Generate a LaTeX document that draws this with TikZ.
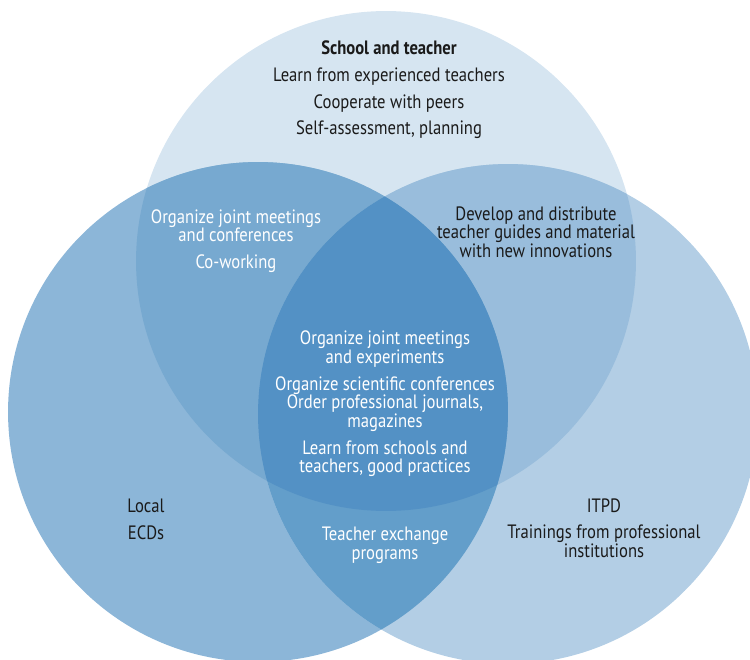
\documentclass[tikz,border=0pt]{standalone}
\usepackage{fontspec}
\setmainfont[FakeStretch=0.86]{PT Sans}
\usepackage{tikz}

\definecolor{cTop}{HTML}{D6E5F1}
\definecolor{cLeft}{HTML}{8CB6D8}
\definecolor{cRight}{HTML}{B3CEE5}
\definecolor{cTL}{HTML}{77A9D0}
\definecolor{cTR}{HTML}{99BDDC}
\definecolor{cLR}{HTML}{639ECA}
\definecolor{cAll}{HTML}{5391C5}
\definecolor{ink}{HTML}{1A1A1A}

\tikzset{
  txt/.style={align=center, font=\fontsize{11}{10.6}\selectfont, text=ink, inner sep=0pt},
  wtxt/.style={txt, text=white}
}
\newcommand{\gap}{\\[4.6pt]}

\begin{document}
\begin{tikzpicture}[x=0.02cm,y=-0.02cm]
\useasboundingbox (0,0) rectangle (750,659);
\fill[cTop] (386,261) circle (5cm);
\fill[cLeft] (258,412) circle (5cm);
\fill[cRight] (508,414) circle (5cm);
\begin{scope}
\clip (386,261) circle (5cm);
\fill[cTL] (258,412) circle (5cm);
\fill[cTR] (508,414) circle (5cm);
\end{scope}
\begin{scope}
\clip (258,412) circle (5cm);
\fill[cLR] (508,414) circle (5cm);
\clip (386,261) circle (5cm);
\fill[cAll] (508,414) circle (5cm);
\end{scope}
% labels
\node[txt] (sch) at (389,90) {\textbf{School and teacher}\gap Learn from experienced teachers\gap Cooperate with peers\gap Self-assessment, planning};
\node[wtxt] (tl) at (236,241) {Organize joint meetings\\ and conferences\gap Co-working};
\node[txt] (tr) at (536,232) {Develop and distribute\\ teacher guides and material\\ with new innovations};
\node[wtxt] (mid) at (385,404) {Organize joint meetings\\ and experiments\gap Organize scientific conferences\\ Order professional journals,\\ magazines\gap Learn from schools and\\ teachers, good practices};
\node[txt] (loc) at (146,519) {Local\gap ECDs};
\node[txt] (itpd) at (604,528) {ITPD\gap Trainings from professional\\ institutions};
\node[wtxt] (exch) at (385,545) {Teacher exchange\\ programs};
\end{tikzpicture}
\end{document}
